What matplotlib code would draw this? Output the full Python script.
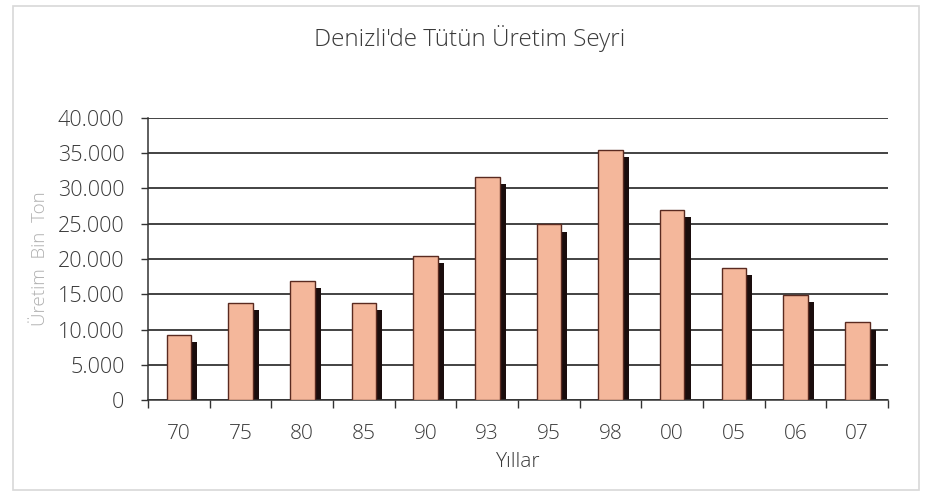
# Denizli tütün üretimi - bar chart with drop shadow
import numpy as np
import matplotlib.pyplot as plt
from matplotlib.patches import Rectangle
from matplotlib.ticker import FuncFormatter, FixedLocator

# Veriler
yillar = ['70', '75', '80', '85', '90', '93', '95', '98', '00', '05', '06', '07']
uretim = [9200, 13800, 16850, 13800, 20400, 31600, 24900, 35400, 27000, 18750, 14900, 11000]

plt.rcParams['font.family'] = ['Open Sans', 'DejaVu Sans']
plt.rcParams['font.weight'] = 'light'
plt.rcParams['axes.labelweight'] = 'light'

fig = plt.figure(figsize=(9.27, 4.96), dpi=100)
ax = fig.add_axes([148/927, 1 - 400/496, (888-148)/927, (400-118)/496])

# cerceve
fig.patches.append(Rectangle((13/927, 6/496), (919-13)/927, (490-6)/496,
                             transform=fig.transFigure, fill=False,
                             edgecolor='#d8d8d8', lw=1.2))

x = np.arange(len(yillar))
w = 0.40
# golge
ax.bar(x + 0.10, np.array(uretim) - 850, width=w, bottom=-150,
       color='#1a0d0d', edgecolor='none', zorder=2)
# ana cubuklar
ax.bar(x, uretim, width=w, color='#f4b79b', edgecolor='#5a2a20', lw=1.0, zorder=3)

ax.set_xlim(-0.5, len(yillar) - 0.5)
ax.set_ylim(0, 40000)
ax.set_yticks(np.arange(0, 40001, 5000))
ax.yaxis.set_major_formatter(FuncFormatter(lambda v, p: '0' if v == 0 else f'{int(v):,}'.replace(',', '.')))
ax.grid(axis='y', color='#222222', lw=1.2, zorder=1)

ax.set_xticks(x)
ax.set_xticklabels(yillar)
ax.xaxis.set_minor_locator(FixedLocator(np.arange(-0.5, len(yillar), 1.0)))
ax.tick_params(axis='x', which='major', length=0, pad=17, labelsize=15, labelcolor='#3a3a3a')
ax.tick_params(axis='x', which='minor', length=6, width=1, color='#333333', direction='out')
ax.tick_params(axis='y', length=5, width=1, color='#333333', labelsize=15.5, labelcolor='#3a3a3a', pad=12)

for s in ['top', 'right']:
    ax.spines[s].set_visible(False)
for s in ['left', 'bottom']:
    ax.spines[s].set_color('#333333')
    ax.spines[s].set_linewidth(1.1)

ax.set_xlabel('Yıllar', fontsize=15, color='#3a3a3a', labelpad=6)
ax.set_ylabel('Üretim  Bin  Ton', fontsize=13.5, color='#b0b0b0', labelpad=6)
fig.text(470/927, 1 - 38/496, "Denizli'de Tütün Üretim Seyri", ha='center', va='center',
         fontsize=17.5, color='#3a3a3a')

fig.savefig('out.png', dpi=100, facecolor='white')
